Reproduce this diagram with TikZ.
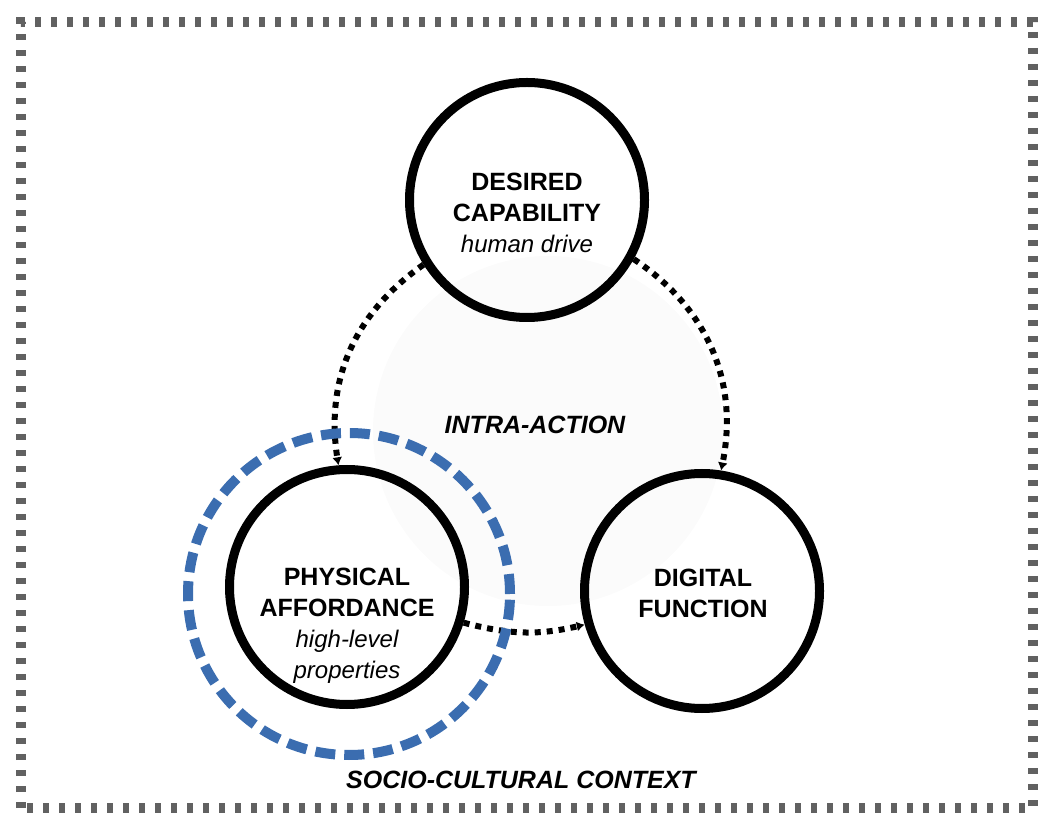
\documentclass[tikz,border=0pt]{standalone}
\usepackage{fontspec}
\setmainfont{Liberation Sans}
\usetikzlibrary{arrows.meta}
\definecolor{blx}{RGB}{59,109,176}
\colorlet{gax}{black!62}
\colorlet{inx}{black!1.5}
\newcommand{\subt}[1]{{\mdseries\itshape\fontsize{24}{31}\selectfont #1}}
\tikzset{
    ring/.style={draw,circle,line width=9pt,minimum size=235pt,inner sep=0pt},
    halo/.style={draw=blx,circle,line width=10pt,dash pattern=on 20pt off 9pt,minimum size=322pt,inner sep=0pt},
    link/.style={line width=6pt,dash pattern=on 6pt off 6pt,-{Latex[length=8pt,width=10pt]}},
    rim/.style={gax,line width=10pt,dash pattern=on 6pt off 10pt},
    title/.style={font=\fontsize{25}{31}\selectfont\bfseries,align=center,inner sep=0pt},
    tag/.style={font=\fontsize{25}{30}\selectfont\bfseries\itshape,inner sep=0pt}
}

\begin{document}
\begin{tikzpicture}[x=1pt,y=1pt]
            \useasboundingbox (0,0) rectangle (1063,836);
            \node [circle,fill=inx,minimum size=350pt] (bg) at (548,405) {};
            \draw [rim] (21,28) rectangle (1033,814);
            \node [ring] (dc) at (527,636) {};
            \node [ring] (pa) at (347,249) {};
            \node [ring] (df) at (702,245) {};
            \draw [link] (dc.212) to [bend right=32] (pa.94);
            \draw [link] (dc.331) to [bend left=34] (df.81);
            \draw [link] (pa.343) to [bend right=14] (df.196);
            \node [halo] (ctx) at (349,242) {};
            \node [title] (dct) at (527,623) {DESIRED\\CAPABILITY\\\subt{human drive}};
            \node [title] (pat) at (347,210) {PHYSICAL\\AFFORDANCE\\\subt{high-level}\\\subt{properties}};
            \node [title] (dft) at (703,243) {DIGITAL\\FUNCTION};
            \node [tag] (ia) at (535,411) {INTRA-ACTION};
            \node [tag] (scc) at (521,56) {SOCIO-CULTURAL CONTEXT};
        \end{tikzpicture}
\end{document}
